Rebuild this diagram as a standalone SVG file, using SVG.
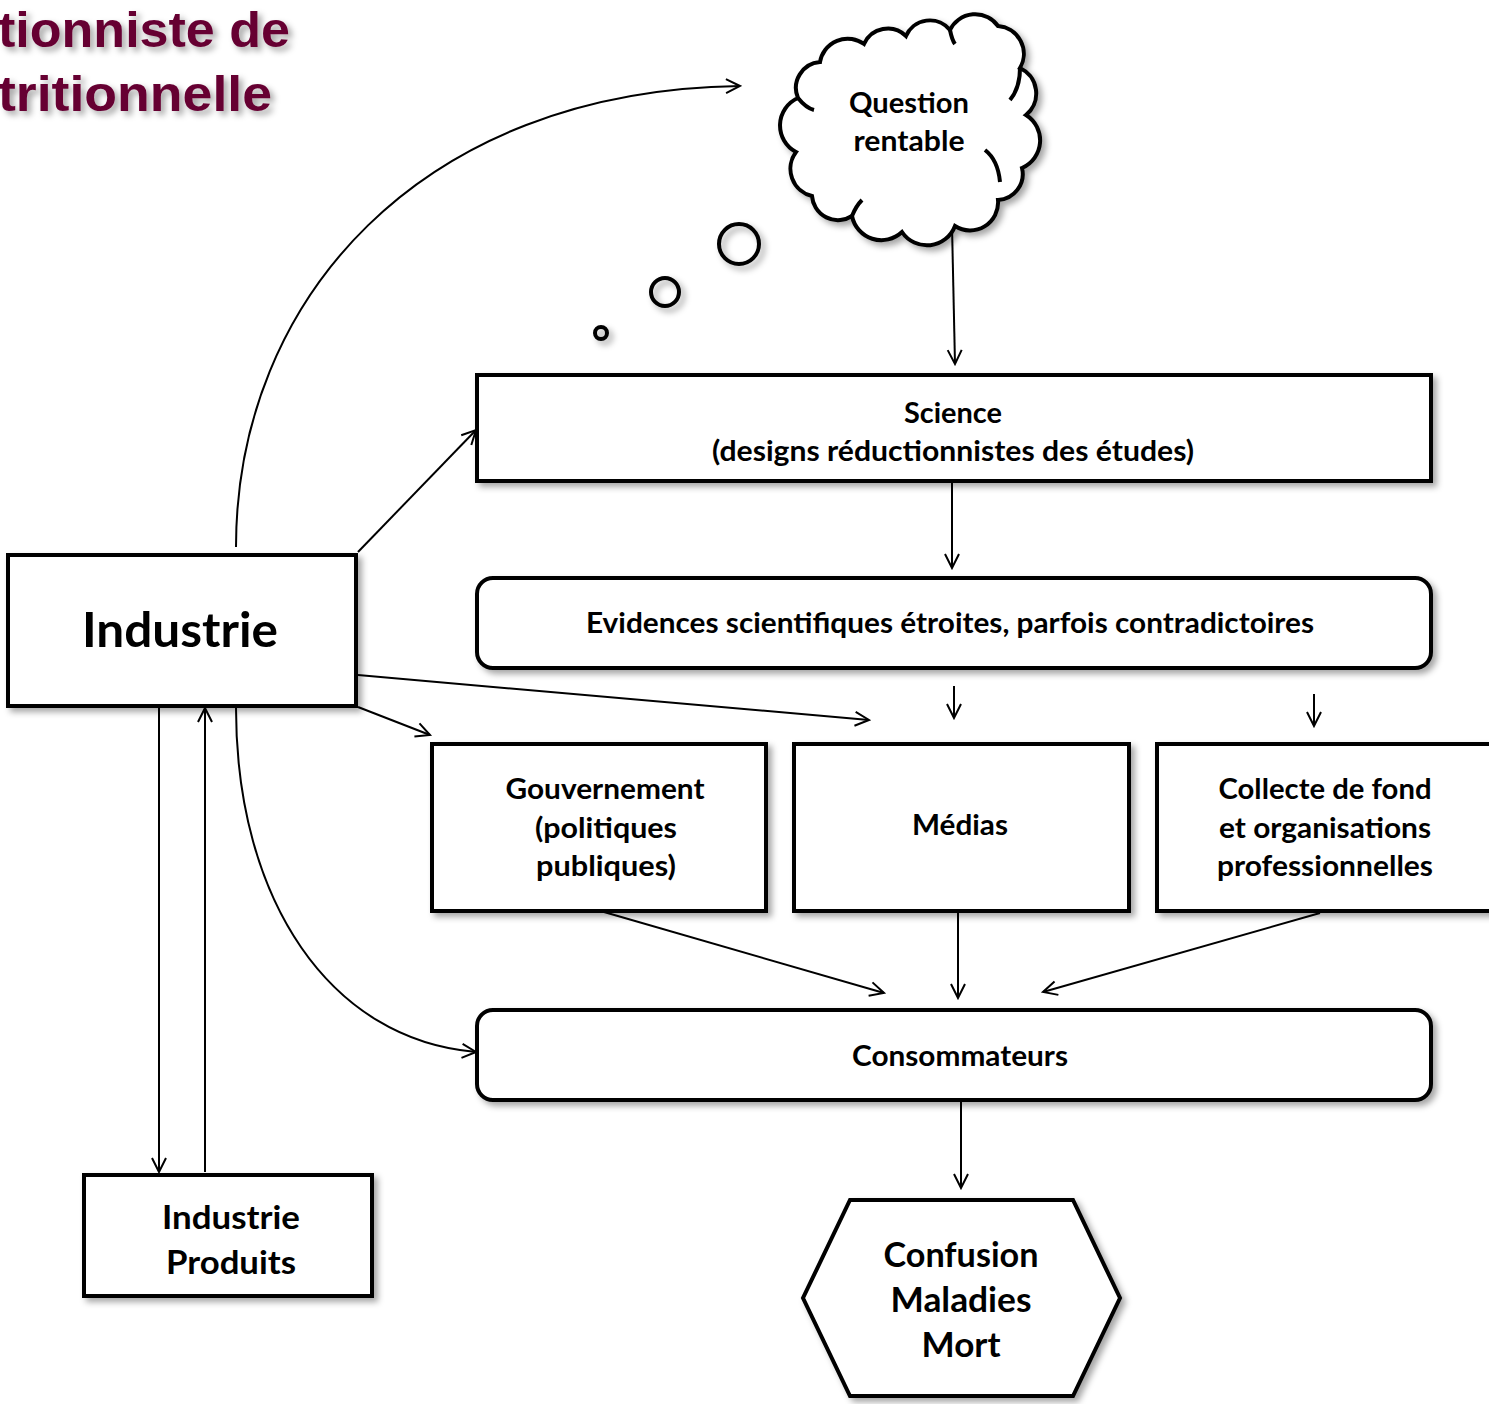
<svg xmlns="http://www.w3.org/2000/svg" width="1489" height="1404" viewBox="0 0 1489 1404">
<defs>
<filter id="sh" x="-10%" y="-10%" width="130%" height="130%">
<feGaussianBlur in="SourceAlpha" stdDeviation="3"/>
<feOffset dx="4" dy="4" result="o"/>
<feFlood flood-color="#000" flood-opacity="0.35"/>
<feComposite in2="o" operator="in"/>
<feMerge><feMergeNode/><feMergeNode in="SourceGraphic"/></feMerge>
</filter>
<marker id="ar" markerUnits="userSpaceOnUse" markerWidth="18" markerHeight="18" viewBox="0 0 18 18" refX="16" refY="9" orient="auto">
<path d="M2,2 L16,9 L2,16" fill="none" stroke="#000" stroke-width="2"/>
</marker>
<style>
.box{fill:#fff;stroke:#000;stroke-width:4;filter:url(#sh)}
.t{font-family:Lato,"Open Sans",sans-serif;font-weight:bold;font-size:28px;fill:#000;text-anchor:middle}
.e{fill:none;stroke:#000;stroke-width:2;marker-end:url(#ar)}
.ttl{font-family:"Liberation Sans",Arial,sans-serif;font-weight:bold;font-size:50px;fill:#660033;filter:url(#sh)}
</style>
</defs>
<rect width="1489" height="1404" fill="#fff"/>

<g id="title">
<text class="ttl" x="-2" y="47" textLength="292" lengthAdjust="spacingAndGlyphs">tionniste de</text>
<text class="ttl" x="-2" y="111" textLength="274" lengthAdjust="spacingAndGlyphs">tritionnelle</text>
</g>

<g id="connectors">
<path class="e" d="M236,547 C236,300 420,90 740,86"/>
<line class="e" x1="952" y1="226" x2="955" y2="364"/>
<line class="e" x1="358" y1="552" x2="476" y2="430"/>
<line class="e" x1="952" y1="483" x2="952" y2="568"/>
<line class="e" x1="954" y1="686" x2="954" y2="718"/>
<line class="e" x1="1314" y1="694" x2="1314" y2="726"/>
<line class="e" x1="358" y1="675" x2="869" y2="720"/>
<line class="e" x1="358" y1="707" x2="430" y2="735"/>
<path class="e" d="M236,708 C236,900 330,1040 476,1052"/>
<line class="e" x1="159" y1="708" x2="159" y2="1172"/>
<line class="e" x1="205" y1="1172" x2="205" y2="708"/>
<line class="e" x1="604" y1="912" x2="884" y2="993"/>
<line class="e" x1="958" y1="912" x2="958" y2="998"/>
<line class="e" x1="1320" y1="913" x2="1043" y2="992"/>
<line class="e" x1="961" y1="1102" x2="961" y2="1188"/>
</g>

<g id="bubbles" fill="none" stroke="#000" stroke-width="4" filter="url(#sh)">
<circle cx="739" cy="244" r="20"/>
<circle cx="665" cy="292" r="14"/>
<circle cx="601" cy="333" r="6"/>
</g>

<g id="cloud">
<path class="box" d="M796,152 A30,30 0 0,1 798,98 A26,26 0 0,1 820,62 A28,28 0 0,1 864,44 A26,26 0 0,1 906,36 A26,26 0 0,1 950,30 A28,28 0 0,1 998,26 A28,28 0 0,1 1020,68 A28,28 0 0,1 1026,115 A30,30 0 0,1 1022,168 A26,26 0 0,1 998,200 A28,28 0 0,1 955,226 A30,30 0 0,1 902,232 A30,30 0 0,1 852,216 A26,26 0 0,1 812,196 A28,28 0 0,1 796,152 Z"/>
<path d="M985,150 Q998,160 1000,182 M1010,100 Q1020,88 1020,68 M852,216 Q856,206 862,200 M798,98 Q806,108 814,110 M950,30 Q952,40 955,44" fill="none" stroke="#000" stroke-width="4"/>
<text class="t" x="909" y="113" textLength="120" lengthAdjust="spacingAndGlyphs">Question</text>
<text class="t" x="909" y="151" textLength="111" lengthAdjust="spacingAndGlyphs">rentable</text>
</g>

<g id="science">
<rect class="box" x="477" y="375" width="954" height="106"/>
<text class="t" x="953" y="423" textLength="98" lengthAdjust="spacingAndGlyphs">Science</text>
<text class="t" x="953" y="461" textLength="482" lengthAdjust="spacingAndGlyphs">(designs réductionnistes des études)</text>
</g>

<g id="evidences">
<rect class="box" x="477" y="578" width="954" height="90" rx="16"/>
<text class="t" x="950" y="633" textLength="728" lengthAdjust="spacingAndGlyphs">Evidences scientifiques étroites, parfois contradictoires</text>
</g>

<g id="gouvernement">
<rect class="box" x="432" y="744" width="334" height="167"/>
<text class="t" x="605" y="799" textLength="199" lengthAdjust="spacingAndGlyphs">Gouvernement</text>
<text class="t" x="606" y="838" textLength="142" lengthAdjust="spacingAndGlyphs">(politiques</text>
<text class="t" x="606" y="876" textLength="140" lengthAdjust="spacingAndGlyphs">publiques)</text>
</g>

<g id="medias">
<rect class="box" x="794" y="744" width="335" height="167"/>
<text class="t" x="960" y="835" textLength="96" lengthAdjust="spacingAndGlyphs">Médias</text>
</g>

<g id="collecte">
<rect class="box" x="1157" y="744" width="340" height="167"/>
<text class="t" x="1325" y="799" textLength="213" lengthAdjust="spacingAndGlyphs">Collecte de fond</text>
<text class="t" x="1325" y="838" textLength="212" lengthAdjust="spacingAndGlyphs">et organisations</text>
<text class="t" x="1325" y="876" textLength="216" lengthAdjust="spacingAndGlyphs">professionnelles</text>
</g>

<g id="consommateurs">
<rect class="box" x="477" y="1010" width="954" height="90" rx="16"/>
<text class="t" x="960" y="1066" textLength="216" lengthAdjust="spacingAndGlyphs">Consommateurs</text>
</g>

<g id="issue">
<polygon class="box" points="850,1200 1073,1200 1120,1298 1073,1396 850,1396 803,1298"/>
<text class="t" x="961" y="1267" style="font-size:35px" textLength="155" lengthAdjust="spacingAndGlyphs">Confusion</text>
<text class="t" x="961" y="1312" style="font-size:35px" textLength="141" lengthAdjust="spacingAndGlyphs">Maladies</text>
<text class="t" x="961" y="1357" style="font-size:35px" textLength="79" lengthAdjust="spacingAndGlyphs">Mort</text>
</g>

<g id="industrie">
<rect class="box" x="8" y="555" width="348" height="151"/>
<text class="t" x="180" y="647" style="font-size:47px" textLength="196" lengthAdjust="spacingAndGlyphs">Industrie</text>
</g>

<g id="produits">
<rect class="box" x="84" y="1175" width="288" height="121"/>
<text class="t" x="231" y="1229" style="font-size:33px" textLength="138" lengthAdjust="spacingAndGlyphs">Industrie</text>
<text class="t" x="231" y="1274" style="font-size:33px" textLength="130" lengthAdjust="spacingAndGlyphs">Produits</text>
</g>
</svg>
